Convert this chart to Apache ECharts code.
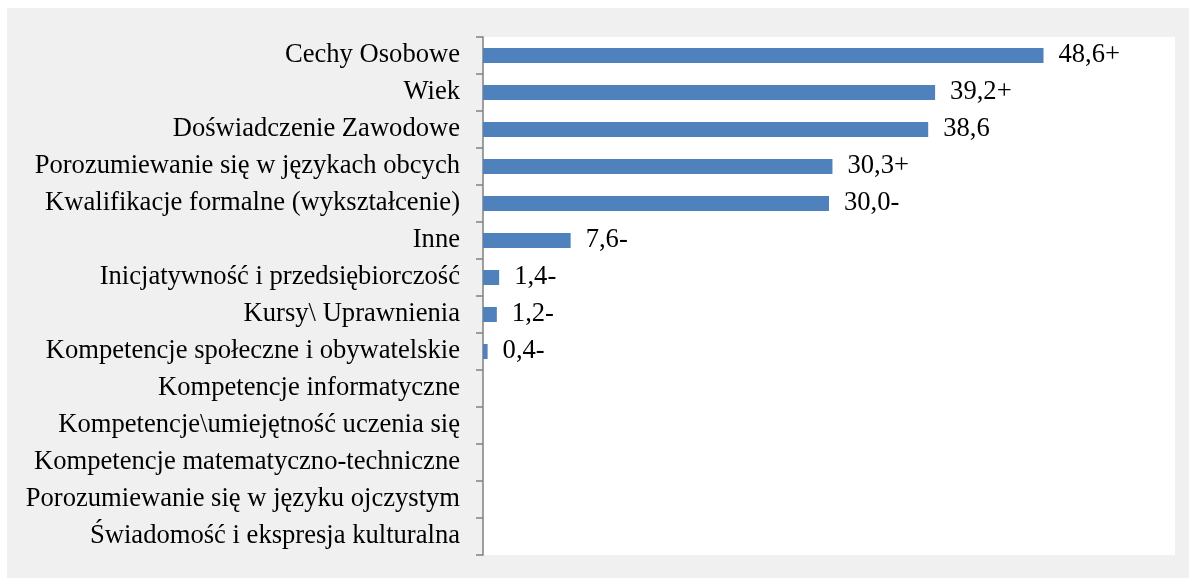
<!DOCTYPE html>
<html>
<head>
<meta charset="utf-8">
<script src="https://cdn.jsdelivr.net/npm/echarts@6/dist/echarts.min.js"></script>
<style>
  html, body { margin: 0; padding: 0; background: #fff; }
  #main { position: absolute; left: 7px; top: 8px; width: 1182px; height: 570px; }
</style>
</head>
<body>
<div id="main"></div>
<script>
var categories = [
  'Cechy Osobowe',
  'Wiek',
  'Doświadczenie Zawodowe',
  'Porozumiewanie się w językach obcych',
  'Kwalifikacje formalne (wykształcenie)',
  'Inne',
  'Inicjatywność i przedsiębiorczość',
  'Kursy\\ Uprawnienia',
  'Kompetencje społeczne i obywatelskie',
  'Kompetencje informatyczne',
  'Kompetencje\\umiejętność uczenia się',
  'Kompetencje matematyczno-techniczne',
  'Porozumiewanie się w języku ojczystym',
  'Świadomość i ekspresja kulturalna'
];
var values = [48.6, 39.2, 38.6, 30.3, 30.0, 7.6, 1.4, 1.2, 0.4, 0, 0, 0, 0, 0];
var marks = ['+', '+', '', '+', '-', '-', '-', '-', '-', '', '', '', '', ''];

var myChart = echarts.init(document.getElementById('main'));
var option = {
  backgroundColor: '#f0f0f0',
  animation: false,
  textStyle: { fontFamily: '"Liberation Serif", "Times New Roman", serif' },
  grid: {
    left: 476, top: 29, right: 14, bottom: 23,
    show: true, backgroundColor: '#ffffff', borderWidth: 0
  },
  xAxis: {
    type: 'value', min: 0, max: 60,
    show: false
  },
  yAxis: {
    type: 'category',
    inverse: true,
    data: categories,
    axisLine: { show: true, lineStyle: { color: '#808080', width: 1.5 } },
    axisTick: { show: true, length: 7, lineStyle: { color: '#808080', width: 1.5 } },
    axisLabel: {
      color: '#000', fontSize: 26.6, margin: 23,
      padding: [4, 0, 0, 0],
      fontFamily: '"Liberation Serif", serif'
    }
  },
  series: [{
    type: 'bar',
    data: values,
    barWidth: 15,
    itemStyle: { color: '#4f81bd' },
    label: {
      show: true,
      position: 'right',
      distance: 15,
      color: '#000',
      fontSize: 26.6,
      padding: [4, 0, 0, 0],
      fontFamily: '"Liberation Serif", serif',
      formatter: function (p) {
        if (!p.value) return '';
        return p.value.toFixed(1).replace('.', ',') + marks[p.dataIndex];
      }
    }
  }]
};
myChart.setOption(option);
</script>
</body>
</html>
